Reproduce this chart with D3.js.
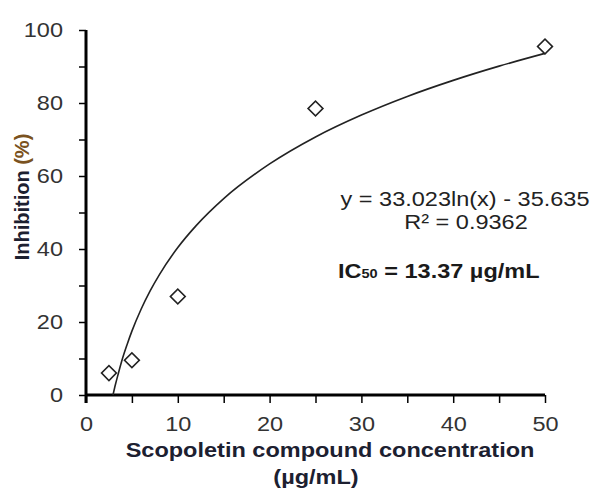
<!DOCTYPE html>
<html>
<head>
<meta charset="utf-8">
<script src="https://cdn.jsdelivr.net/npm/d3@7"></script>
<style>
  body { margin: 0; background: #fff; }
  svg { display: block; font-family: "Liberation Sans", Arial, sans-serif; }
</style>
</head>
<body>
<svg id="chart"></svg>
<script>
// measured points
const concentration = [2.5, 5, 10, 25, 50];
const inhibition = [6, 9.5, 27, 78.5, 95.5];

// trend line as it appears on the picture
const trendX = [2.94, 3.2, 3.5, 4, 4.5, 5, 6, 7, 8, 10, 12, 15, 20, 25, 30, 35, 40, 45, 50];
const trendY = [0, 2.8, 5.7, 10.2, 14.0, 17.5, 23.5, 28.6, 33.0, 40.4, 46.4, 53.8, 63.3, 70.7, 76.7, 81.8, 86.2, 90.1, 93.6];

const xTicks = [0, 5, 10, 15, 20, 25, 30, 35, 40, 45, 50];
const xTickLabels = [0, 10, 20, 30, 40, 50];
const yTicks = [0, 10, 20, 30, 40, 50, 60, 70, 80, 90, 100];
const yTickLabels = [0, 20, 40, 60, 80, 100];

const eqText = 'y = 33.023ln(x) - 35.635';
const r2Text = 'R² = 0.9362';

const width = 596, height = 491;
const margin = {top: 30, right: 51, bottom: 96, left: 86};
const stretch = 1.12; // the original text is a bit wide

const svg = d3.select('#chart')
    .attr('width', width)
    .attr('height', height);

const chart = svg.append('g')
    .attr('transform', `translate(${margin.left}, ${margin.top})`);

const inner_width = width - margin.left - margin.right;
const inner_height = height - margin.top - margin.bottom;

const xscale = d3.scaleLinear().domain([0, 50]).range([0, inner_width]);
const yscale = d3.scaleLinear().domain([0, 100]).range([inner_height, 0]);

const xaxis = d3.axisBottom(xscale)
    .tickValues(xTicks)
    .tickSize(8)
    .tickPadding(13)
    .tickFormat(d => xTickLabels.includes(d) ? d : '');

const yaxis = d3.axisLeft(yscale)
    .tickValues(yTicks)
    .tickSize(7)
    .tickPadding(16)
    .tickFormat(d => yTickLabels.includes(d) ? d : '');

const xg = chart.append('g')
    .attr('transform', `translate(0, ${inner_height})`)
    .call(xaxis);
const yg = chart.append('g').call(yaxis);

[xg, yg].forEach(g => {
    g.select('.domain').attr('stroke', '#000').attr('stroke-width', 3);
    g.selectAll('.tick line').attr('stroke', '#000').attr('stroke-width', 1.5);
    g.selectAll('.tick text')
        .attr('fill', '#333')
        .style('font-size', '21px')
        .style('font-family', '"Liberation Sans", Arial, sans-serif');
});
// stretch tick labels sideways around their anchor
xg.selectAll('.tick text').attr('transform', `scale(${stretch},1)`);
yg.selectAll('.tick text')
    .attr('transform', function() {
        const x = +d3.select(this).attr('x');
        return `translate(${x},0) scale(${stretch},1) translate(${-x},0)`;
    });

xg.select('.domain').attr('d', `M0,0H${inner_width}`);
yg.select('.domain').attr('d', `M0,${inner_height + 8}V0`);

// trend line
const line = d3.line()
    .x((d, i) => xscale(trendX[i]))
    .y(d => yscale(d))
    .curve(d3.curveMonotoneX);

chart.append('path')
    .attr('d', line(trendY))
    .attr('fill', 'none')
    .attr('stroke', '#222')
    .attr('stroke-width', 1.6);

// points
const diamond = d3.symbol().type(d3.symbolSquare).size(110);
chart.selectAll('.pt')
    .data(concentration)
    .join('path')
    .attr('class', 'pt')
    .attr('d', diamond)
    .attr('transform', (d, i) => `translate(${xscale(d)}, ${yscale(inhibition[i])}) rotate(45)`)
    .attr('fill', '#fff')
    .attr('stroke', '#222')
    .attr('stroke-width', 1.6);

// text helper, stretched horizontally
function label(x, y, anchor, size, weight, color) {
    return svg.append('text')
        .attr('transform', `translate(${x},${y}) scale(${stretch},1)`)
        .attr('text-anchor', anchor)
        .attr('fill', color)
        .style('font-size', size + 'px')
        .style('font-weight', weight);
}

label(465, 206, 'middle', 21, 'normal', '#222').text(eqText);
label(466, 229, 'middle', 21, 'normal', '#222').text(r2Text);

const ic = label(338, 278, 'start', 21, 'bold', '#1a1a1a');
ic.append('tspan').text('IC');
ic.append('tspan').style('font-size', '13px').text('50');
ic.append('tspan').text(' = 13.37 µg/mL');

// axis titles
label(330, 457, 'middle', 21, 'bold', '#1c2030').text('Scopoletin compound concentration');
label(316, 484, 'middle', 21, 'bold', '#1c2030').text('(µg/mL)');

const ylab = svg.append('text')
    .attr('transform', 'translate(29,197) rotate(-90)')
    .attr('text-anchor', 'middle')
    .attr('fill', '#1c2030')
    .style('font-size', '20px')
    .style('font-weight', 'bold');
ylab.append('tspan').text('Inhibition ');
ylab.append('tspan').attr('fill', '#7a5220').text('(%)');
</script>
</body>
</html>
